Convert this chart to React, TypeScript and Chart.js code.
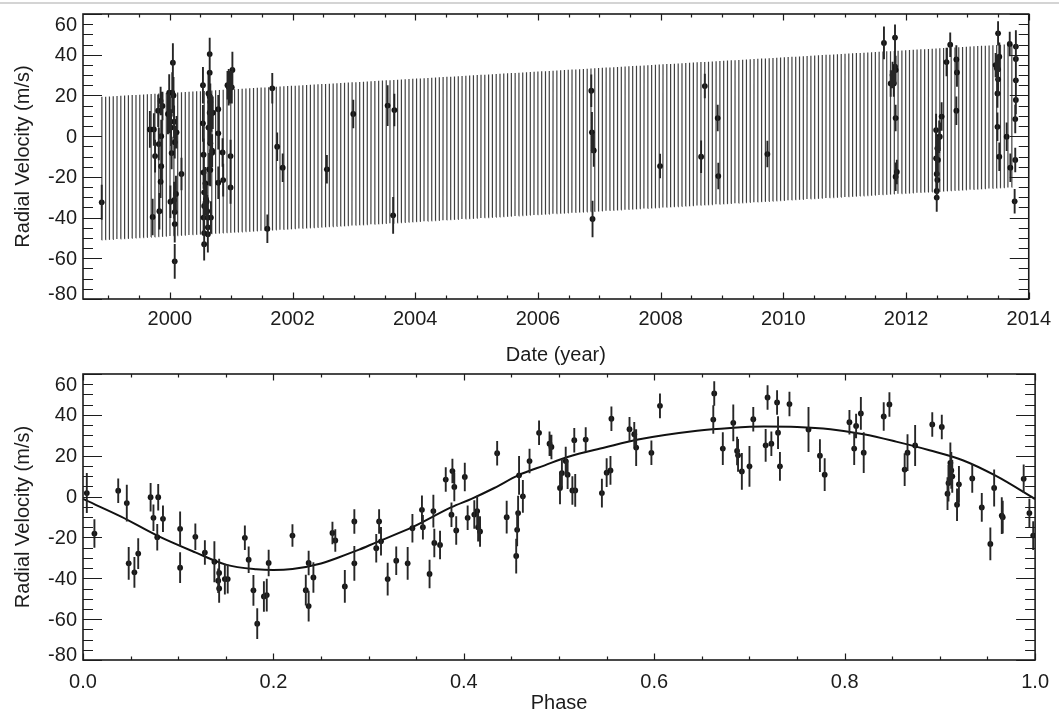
import React, { useEffect, useRef } from "react";
import { Chart, registerables } from "chart.js";

Chart.register(...registerables);

const FONT_FAMILY = '"Liberation Sans", Arial, Helvetica, sans-serif';
const INK = "#1c1c1c";

// ---------- Top panel: radial velocity vs date ----------
const obsYears = [
  1998.89, 1999.675, 1999.74, 1999.72, 1999.76, 1999.81, 1999.82, 1999.83, 1999.85, 1999.86, 1999.85, 1999.86, 1999.88, 1999.97, 2000.0, 1999.99,
  2000.01, 2000.02, 2000.03, 2000.05, 2000.04, 2000.06, 2000.07, 2000.07, 2000.08, 2000.08, 2000.08, 2000.08, 2000.1, 2000.11, 2000.19,
  2000.54, 2000.54, 2000.55, 2000.55, 2000.56, 2000.56, 2000.55, 2000.56, 2000.56, 2000.58, 2000.59, 2000.6, 2000.61, 2000.62, 2000.62, 2000.62,
  2000.63, 2000.63, 2000.64, 2000.65, 2000.65, 2000.65, 2000.65, 2000.66, 2000.66, 2000.66, 2000.67, 2000.67, 2000.68, 2000.69, 2000.69, 2000.7,
  2000.79, 2000.79, 2000.79, 2000.86, 2000.87, 2000.94, 2000.96, 2000.99, 2001.01, 2001.02, 2000.99, 2000.99,
  2001.59, 2001.67, 2001.75, 2001.84, 2002.56, 2002.99, 2003.55, 2003.66, 2003.64, 2006.87, 2006.88, 2006.91, 2006.89, 2007.99,
  2008.66, 2008.72, 2008.93, 2008.94, 2009.74, 2011.64, 2011.75, 2011.78, 2011.8, 2011.82, 2011.82, 2011.83, 2011.83, 2011.83, 2011.85,
  2012.49, 2012.49, 2012.51, 2012.5, 2012.51, 2012.5, 2012.5, 2012.52, 2012.54, 2012.55, 2012.58, 2012.66, 2012.72, 2012.82, 2012.83, 2012.82,
  2013.46, 2013.48, 2013.5, 2013.5, 2013.5, 2013.49, 2013.52, 2013.49, 2013.52, 2013.64, 2013.69, 2013.7, 2013.79, 2013.79, 2013.79, 2013.79,
  2013.78, 2013.78, 2013.77,
];
const obsRv = [
  -32.5, 3.3, 3.3, -39.7, -9.8, 12.5, -3.9, -36.9, 17.3, -14.8, -22.4, 0, 14.8, 10.9, 10.4, 21.4,
  -32.2, 4.2, -8.3, 36.1, 21.4, 20.0, -31.4, 7.1, -3.0, -37.3, -43.2, -61.5, -28.4, 1.9, -18.6,
  25.0, 6.3, -9.1, -17.8, -27.6, -34.3, -40.0, -47.6, -53.1, -23.2, -31.0, -32.2, -36.9, -44.8, -40.0, -48.2,
  21.0, 4.2, -16.3, 31.2, 11.5, 19.5, 40.3, 16.8, -3.5, -16.6, 11.7, -40.0, 11.2, -8.2, -7.1, 11.5,
  13.2, 1.4, -22.9, -8.0, -21.6, 25.0, 24.0, 24.0, 24.0, 32.5, -9.8, -25.2,
  -45.5, 23.5, -5.2, -15.5, -16.3, 10.9, 15.0, 12.8, -38.9, 22.3, 1.9, -7.0, -40.7, -14.7,
  -10.1, 24.6, 8.9, -19.6, -8.8, 45.8, 25.9, 30.0, 25.9, 48.4, 34.1, 32.5, 8.9, -19.9, -17.6,
  3.0, -10.9, -6.0, -18.6, -21.5, -26.9, -30.2, -11.7, -0.3, -0.3, 9.6, 36.4, 44.9, 37.7, 31.3, 12.5,
  34.9, 33.3, 50.5, 32.8, 27.9, 21.0, 39.0, 4.6, -10.1, -0.3, 45.3, -15.5, 44.0, 37.9, 27.4, 17.8,
  8.4, -11.7, -32.0,
];
const obsErr = [
  8.6, 9, 8, 9, 8, 8, 8, 9, 7, 8, 8, 8, 7, 10, 9, 9,
  8, 9, 8, 9.5, 10, 9, 9, 8, 8, 8, 9, 8.5, 9, 8, 8,
  9, 9, 8, 8, 8, 9, 8, 8, 8, 8, 8, 8, 8, 8, 8, 9,
  9, 8, 8, 9, 8, 8, 8, 9, 8, 8, 8, 8, 9, 7, 8, 8,
  7, 8, 8, 7, 8, 7, 9, 8, 8, 9, 8, 8,
  7, 7.5, 7, 7, 7, 7, 10, 8, 9, 8, 10, 8, 9, 6,
  8, 6, 6.5, 6.5, 6.5, 8, 6.5, 6.5, 6.5, 6.5, 8, 7, 6.5, 7, 6,
  8, 7, 6, 7, 7, 7, 7, 8, 8, 7, 7, 7, 6, 7, 7, 7,
  6, 6, 6, 7, 8, 7, 7, 7, 7, 7, 6, 7, 8, 7, 7, 7,
  7, 6, 6,
];
const modelSpanYears = [1998.89, 2013.77];
const trendYears = [1998.89, 2013.77];
const trendRv = [-15.0, 11.0];
const orbitalPeriodYears = 0.1236;
const strokesPerOrbit = 2; // the long-baseline model is drawn as one stroke per half orbit
const yearTicks = [2000, 2002, 2004, 2006, 2008, 2010, 2012, 2014];
const yearTickLabels = ["2000", "2002", "2004", "2006", "2008", "2010", "2012", "2014"];
const yearRange = [1998.585, 2014.0];

// ---------- Bottom panel: phase-folded ----------
const foldPhase = [
  0.004, 0.012, 0.037, 0.046, 0.048, 0.054, 0.058, 0.071, 0.074, 0.079, 0.078, 0.084, 0.102, 0.102, 0.118, 0.128,
  0.138, 0.142, 0.143, 0.143, 0.149, 0.152, 0.17, 0.174, 0.179, 0.183, 0.19, 0.193, 0.195, 0.22, 0.234, 0.237,
  0.237, 0.242, 0.262, 0.265, 0.275, 0.285, 0.285,
  0.308, 0.311, 0.313, 0.32, 0.329, 0.341, 0.346, 0.356, 0.357, 0.364, 0.368, 0.369, 0.375, 0.381, 0.387, 0.388,
  0.39, 0.392, 0.401, 0.404, 0.411, 0.414, 0.415, 0.417, 0.435, 0.445, 0.455, 0.456, 0.457, 0.458, 0.462, 0.469,
  0.479, 0.49, 0.492, 0.501, 0.503, 0.507, 0.509, 0.514, 0.517, 0.516, 0.528, 0.545, 0.55, 0.554, 0.555, 0.574,
  0.579, 0.581, 0.597, 0.606,
  0.663, 0.662, 0.672, 0.683, 0.687, 0.688, 0.692, 0.7, 0.704, 0.717, 0.719, 0.723, 0.729, 0.73, 0.732, 0.742,
  0.762, 0.774, 0.779, 0.805, 0.81, 0.812, 0.817, 0.82, 0.841, 0.847, 0.863, 0.866, 0.874, 0.892, 0.902, 0.908,
  0.909, 0.911, 0.912, 0.913, 0.918, 0.92, 0.934, 0.944, 0.953, 0.957, 0.965, 0.966, 0.988, 0.994, 0.998,
];
const foldRv = [
  1.7, -18.1, 2.9, -3.2, -32.7, -37.1, -27.9, -0.3, -10.4, -0.3, -19.9, -10.9, -15.8, -34.8, -19.7, -27.4,
  -31.9, -41.2, -37.4, -45.0, -40.4, -40.4, -20.2, -30.9, -45.9, -62.2, -48.9, -48.2, -32.5, -19.1, -45.8, -32.5,
  -53.6, -39.6, -17.8, -21.5, -44.0, -12.2, -32.7,
  -25.3, -12.2, -21.9, -40.4, -31.4, -32.7, -15.5, -6.5, -15.0, -37.9, -7.1, -22.7, -23.7, 8.3, -8.9, 12.5,
  4.7, -16.6, 9.6, -10.4, -8.8, -7.1, -15.0, -17.1, 21.2, -10.1, -29.1, -16.3, -8.1, 10.4, 0.1, 17.4,
  31.2, 25.9, 24.3, 4.2, 11.5, 17.4, 10.7, 3.0, 3.0, 27.6, 27.9, 1.7, 11.7, 12.8, 38.1, 33.0,
  30.5, 24.0, 21.4, 44.4,
  50.5, 37.7, 23.5, 36.1, 22.3, 20.2, 12.3, 14.8, 37.9, 25.1, 48.5, 25.9, 46.1, 31.3, 14.8, 45.3,
  32.8, 20.0, 10.7, 36.4, 23.5, 34.6, 40.7, 21.5, 39.2, 45.1, 13.2, 21.5, 25.0, 35.3, 34.1, 1.4,
  6.6, 16.5, 12.8, 9.9, -4.0, 6.0, 8.9, -5.3, -23.2, 4.2, -9.3, -10.1, 8.7, -8.1, -19.1,
];
const foldErr = [
  9.8, 7, 6, 9, 8, 7.5, 7.5, 7, 6.5, 6.5, 6.5, 6.5, 8.5, 7.5, 6.5, 6,
  10, 6, 7, 7, 7.5, 7, 6, 6.5, 7.5, 7.5, 7.5, 8, 6.5, 5.5, 7.5, 6,
  7.5, 7.5, 5.5, 5.5, 8, 6, 8.5,
  7, 6, 7, 8, 7, 8, 7, 7, 6, 7, 8, 7, 7, 6, 6, 6,
  7, 7, 7, 6, 7, 7.5, 7, 7.5, 6, 8, 8.5, 8, 8.5, 9.5, 8, 6,
  6, 6, 6, 8, 7, 7, 7, 7, 8, 6, 6, 7, 7, 7, 6, 6,
  6, 9, 6, 6,
  6, 7, 8, 9, 7, 8, 9, 10, 6, 8, 6, 6, 6, 8, 7, 6,
  11, 8, 8, 6, 8, 6, 8, 10, 7, 6, 8, 9, 10, 6, 6, 8,
  9, 10, 9, 8, 8, 9, 7, 7, 8, 9, 9, 8, 7, 7, 7,
];
const modelPhase = [
  0, 0.04, 0.078, 0.118, 0.15, 0.182, 0.2, 0.22, 0.25, 0.269, 0.29, 0.308, 0.346, 0.387, 0.408, 0.432,
  0.457, 0.485, 0.509, 0.548, 0.583, 0.645, 0.68, 0.715, 0.75, 0.785, 0.82, 0.854, 0.889, 0.924, 0.959, 1.0,
];
const modelRv = [
  -1.2, -9.8, -19.1, -27.3, -33.3, -35.6, -36.0, -35.5, -32.8, -29.7, -26.0, -22.4, -15.0, -5.2, -1.1, 4.2,
  10.4, 15.3, 19.4, 24.0, 27.9, 32.2, 33.6, 34.3, 34.1, 33.0, 30.5, 26.9, 22.7, 17.8, 10.1, -1.2,
];
const phaseTicks = [0, 0.2, 0.4, 0.6, 0.8, 1.0];
const phaseTickLabels = ["0.0", "0.2", "0.4", "0.6", "0.8", "1.0"];
const phaseRange = [0, 1];

// ---------- shared velocity axis ----------
const rvRange = [-80, 60];
const rvTicks = [-80, -60, -40, -20, 0, 20, 40, 60];
const rvTickLabels = ["-80", "-60", "-40", "-20", "0", "20", "40", "60"];

function interp(xs: number[], ys: number[], x: number): number {
  if (x <= xs[0]) return ys[0];
  for (let i = 1; i < xs.length; i++) {
    if (x <= xs[i]) {
      const f = (x - xs[i - 1]) / (xs[i] - xs[i - 1]);
      return ys[i - 1] + f * (ys[i] - ys[i - 1]);
    }
  }
  return ys[ys.length - 1];
}

// Long-baseline model: each half orbit appears as one near-vertical stroke from the
// orbit's minimum to its maximum, riding on the linear trend.
function buildTimeModel() {
  const pts: { x: number; y: number | null }[] = [];
  const vMax = Math.max(...modelRv);
  const vMin = Math.min(...modelRv);
  const step = orbitalPeriodYears / strokesPerOrbit;
  for (let t = modelSpanYears[0]; t <= modelSpanYears[1] + 1e-9; t += step) {
    const tr = interp(trendYears, trendRv, t);
    pts.push({ x: t, y: vMin + tr });
    pts.push({ x: t + step * 0.04, y: vMax + tr });
    pts.push({ x: t + step * 0.05, y: null });
  }
  return pts;
}

type PanelCfg = {
  xs: number[];
  ys: number[];
  errs: number[];
  xMajor: number[];
  xMinorStep: number;
  yMinorStep: number;
};

function makePanelPlugin(cfg: PanelCfg) {
  return {
    id: "panelDecor",
    afterDatasetDraw(chart: any, args: any) {
      if (args.index !== 0) return;
      const ctx = chart.ctx;
      const xS = chart.scales.x;
      const yS = chart.scales.y;
      const a = chart.chartArea;
      ctx.save();
      ctx.beginPath();
      ctx.rect(a.left, a.top, a.right - a.left, a.bottom - a.top);
      ctx.clip();
      ctx.strokeStyle = "#262626";
      ctx.lineWidth = 1.9;
      ctx.beginPath();
      const n = Math.min(cfg.xs.length, cfg.ys.length);
      for (let i = 0; i < n; i++) {
        const e = cfg.errs[i] ?? 7;
        const x = xS.getPixelForValue(cfg.xs[i]);
        ctx.moveTo(x, yS.getPixelForValue(cfg.ys[i] - e));
        ctx.lineTo(x, yS.getPixelForValue(cfg.ys[i] + e));
      }
      ctx.stroke();
      ctx.restore();
    },
    afterDraw(chart: any) {
      const ctx = chart.ctx;
      const xS = chart.scales.x;
      const yS = chart.scales.y;
      const { left, right, top, bottom } = chart.chartArea;
      ctx.save();
      ctx.strokeStyle = INK;
      ctx.lineWidth = 1.2;
      ctx.beginPath();
      const yCount = Math.round((yS.max - yS.min) / cfg.yMinorStep);
      for (let k = 0; k <= yCount; k++) {
        const v = yS.min + k * cfg.yMinorStep;
        const y = Math.round(yS.getPixelForValue(v)) + 0.5;
        const major = rvTicks.some((t) => Math.abs(t - v) < 1e-6);
        const L = major ? 19 : 10;
        ctx.moveTo(left, y);
        ctx.lineTo(left + L, y);
        ctx.moveTo(right, y);
        ctx.lineTo(right - L, y);
      }
      const start = Math.ceil(xS.min / cfg.xMinorStep - 1e-6);
      const end = Math.floor(xS.max / cfg.xMinorStep + 1e-6);
      for (let k = start; k <= end; k++) {
        const v = k * cfg.xMinorStep;
        const x = Math.round(xS.getPixelForValue(v)) + 0.5;
        const major = cfg.xMajor.some((t) => Math.abs(t - v) < 1e-6);
        const L = major ? 6.5 : 3.5;
        ctx.moveTo(x, bottom);
        ctx.lineTo(x, bottom - L);
        ctx.moveTo(x, top);
        ctx.lineTo(x, top + L);
      }
      ctx.stroke();
      ctx.lineWidth = 1.6;
      ctx.strokeRect(left, top, right - left, bottom - top);
      ctx.fillStyle = INK;
      ctx.font = `20px ${FONT_FAMILY}`;
      ctx.textAlign = "right";
      ctx.textBaseline = "middle";
      for (let i = 0; i < rvTicks.length; i++) {
        let y = yS.getPixelForValue(rvTicks[i]);
        y = Math.max(top + 10, Math.min(bottom - 6, y));
        ctx.fillText(rvTickLabels[i], left - 6, y + 1);
      }
      ctx.restore();
    },
  };
}

function makeOptions(p: {
  xRange: number[];
  xTicks: number[];
  xLabels: string[];
  xTitle: string;
  xAxisHeight: number;
  tickPad: number;
  titlePadBottom: number;
  padRight: number;
}) {
  const font = { family: FONT_FAMILY, size: 20 };
  return {
    responsive: false,
    animation: false as const,
    events: [] as any[],
    layout: { padding: { top: 14, right: p.padRight, left: 0, bottom: 0 } },
    plugins: { legend: { display: false }, tooltip: { enabled: false } },
    scales: {
      x: {
        type: "linear" as const,
        min: p.xRange[0],
        max: p.xRange[1],
        afterBuildTicks: (s: any) => {
          s.ticks = p.xTicks.map((v) => ({ value: v }));
        },
        afterFit: (s: any) => {
          s.height = p.xAxisHeight;
        },
        ticks: {
          callback: (_v: any, i: number) => p.xLabels[i],
          font,
          color: INK,
          padding: p.tickPad,
          maxRotation: 0,
          autoSkip: false,
        },
        grid: { display: false, drawTicks: false },
        border: { display: false },
        title: { display: true, text: p.xTitle, font, color: INK, padding: { top: 0, bottom: p.titlePadBottom } },
      },
      y: {
        type: "linear" as const,
        min: rvRange[0],
        max: rvRange[1],
        afterFit: (s: any) => {
          s.width = 83;
        },
        ticks: { display: false },
        grid: { display: false, drawTicks: false },
        border: { display: false },
        title: { display: true, text: "Radial Velocity (m/s)", font, color: INK, padding: { top: 11, bottom: 0 } },
      },
    },
  };
}

export default function App() {
  const topRef = useRef<HTMLCanvasElement | null>(null);
  const botRef = useRef<HTMLCanvasElement | null>(null);

  useEffect(() => {
    if (!topRef.current || !botRef.current) return;
    const topPts = obsYears.map((x, i) => ({ x, y: obsRv[i] }));
    const botPts = foldPhase.map((x, i) => ({ x, y: foldRv[i] }));
    const foldModel = modelPhase.map((x, i) => ({ x, y: modelRv[i] }));

    const top = new Chart(topRef.current, {
      type: "scatter",
      data: {
        datasets: [
          {
            data: buildTimeModel(),
            showLine: true,
            spanGaps: false,
            borderColor: "rgba(10,10,10,0.78)",
            borderWidth: 1.2,
            pointRadius: 0,
            tension: 0,
            fill: false,
          } as any,
          {
            data: topPts,
            backgroundColor: "#151515",
            borderWidth: 0,
            pointRadius: 2.9,
          },
        ],
      },
      options: makeOptions({
        xRange: yearRange,
        xTicks: yearTicks,
        xLabels: yearTickLabels,
        xTitle: "Date (year)",
        xAxisHeight: 73,
        tickPad: 8,
        titlePadBottom: 5,
        padRight: 28,
      }) as any,
      plugins: [
        makePanelPlugin({ xs: obsYears, ys: obsRv, errs: obsErr, xMajor: yearTicks, xMinorStep: 0.5, yMinorStep: 5 }),
      ],
    });

    const bot = new Chart(botRef.current, {
      type: "scatter",
      data: {
        datasets: [
          {
            data: foldModel,
            showLine: true,
            borderColor: "#111",
            borderWidth: 2,
            pointRadius: 0,
            cubicInterpolationMode: "monotone",
            fill: false,
          } as any,
          {
            data: botPts,
            backgroundColor: "#151515",
            borderWidth: 0,
            pointRadius: 2.9,
          },
        ],
      },
      options: makeOptions({
        xRange: phaseRange,
        xTicks: phaseTicks,
        xLabels: phaseTickLabels,
        xTitle: "Phase",
        xAxisHeight: 55,
        tickPad: 10,
        titlePadBottom: 0,
        padRight: 20,
      }) as any,
      plugins: [
        makePanelPlugin({ xs: foldPhase, ys: foldRv, errs: foldErr, xMajor: phaseTicks, xMinorStep: 0.05, yMinorStep: 5 }),
      ],
    });

    return () => {
      top.destroy();
      bot.destroy();
    };
  }, []);

  return (
    <div style={{ position: "absolute", left: 0, top: 0, width: 1059, height: 715, background: "#fff", overflow: "hidden" }}>
      <div style={{ position: "absolute", left: 0, top: 2, width: 1059, height: 2, background: "#d4d4d4" }} />
      <canvas ref={topRef} width={1059} height={372} style={{ position: "absolute", left: 0, top: 0, width: 1059, height: 372 }} />
      <canvas ref={botRef} width={1059} height={355} style={{ position: "absolute", left: 0, top: 360, width: 1059, height: 355 }} />
    </div>
  );
}
